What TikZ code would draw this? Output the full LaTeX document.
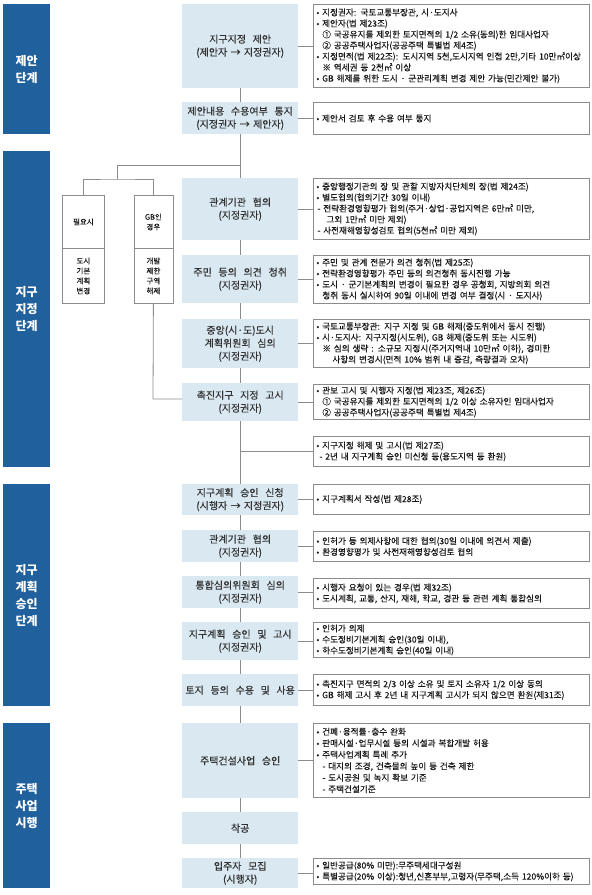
\documentclass[tikz,border=0pt]{standalone}
\usepackage{fontspec}
\setmainfont{Noto Sans CJK KR}
\newfontfamily\infofont[FakeBold=0.3]{Noto Sans CJK KR}
\definecolor{stageblue}{RGB}{32,96,156}
\definecolor{boxfill}{RGB}{218,232,242}
\definecolor{linegray}{RGB}{140,140,140}
\definecolor{txtgray}{RGB}{50,50,50}
\definecolor{infotxt}{RGB}{25,25,25}
\tikzset{
  stage/.style={fill=stageblue, text=white, font=\bfseries\fontsize{12}{17}\selectfont, align=center, anchor=north west, inner sep=0pt, minimum width=47pt, text width=47pt},
  cbox/.style={fill=boxfill, text=txtgray, font=\infofont\fontsize{10}{13}\selectfont, align=center, anchor=north west, inner sep=0pt, minimum width=116pt, text width=116pt},
  ibox/.style={draw=linegray, line width=0.8pt, text=infotxt, anchor=north west, minimum width=276pt, text width=270pt, align=left, inner xsep=3pt, inner ysep=0pt, font=\infofont\fontsize{8.6}{11}\selectfont},
  sbox/.style={draw=linegray, line width=0.8pt, text=infotxt, anchor=north west, align=center, inner sep=0pt, font=\infofont\fontsize{7.5}{10}\selectfont},
  conn/.style={draw=linegray, line width=0.8pt}
}
\newcommand\ind{\hspace*{6pt}}
\newcommand\indd{\hspace*{10pt}}
\newcommand\oneline[1]{\mbox{#1}}
\begin{document}
\begin{tikzpicture}[x=1pt,y=-1pt]
\useasboundingbox[fill=white] (0,0) rectangle (592,895);

% stage bars
\node[stage, minimum height=130] (s1) at (3,4) {제안\\단계};
\node[stage, minimum height=316] (s2) at (3,151) {지구\\지정\\단계};
\node[stage, minimum height=222] (s3) at (3,484) {지구\\계획\\승인\\단계};
\node[stage, minimum height=165] (s4) at (3,723) {주택\\사업\\시행};

% center boxes
\node[cbox, minimum height=84] (b1) at (182,4) {지구지정 \ 제안\\(제안자 → 지정권자)};
\node[cbox, minimum height=32] (b2) at (182,102) {제안내용 \ 수용여부 \ 통지\\(지정권자 → 제안자)};
\node[cbox, minimum height=62] (b3) at (182,178) {관계기관 \ 협의\\(지정권자)};
\node[cbox, minimum height=48] (b4) at (182,255) {주민 \ 등의 \ 의견 \ 청취\\(지정권자)};
\node[cbox, minimum height=49] (b5) at (182,319) {중앙(시·도)도시\\계획위원회 \ 심의\\(지정권자)};
\node[cbox, minimum height=38] (b6) at (182,383) {촉진지구 \ 지정 \ 고시\\(지정권자)};
\node[cbox, minimum height=31] (b7) at (182,484) {지구계획 \ 승인 \ 신청\\(시행자 → 지정권자)};
\node[cbox, minimum height=32] (b8) at (182,530) {관계기관 \ 협의\\(지정권자)};
\node[cbox, minimum height=32] (b9) at (182,576) {통합심의위원회 \ 심의\\(지정권자)};
\node[cbox, minimum height=38] (b10) at (182,622) {지구계획 \ 승인 \ 및 \ 고시\\(지정권자)};
\node[cbox, minimum height=32] (b11) at (182,674) {토지 \ 등의 \ 수용 \ 및 \ 사용};
\node[cbox, minimum height=75] (b12) at (182,723) {주택건설사업 \ 승인};
\node[cbox, minimum height=32] (b13) at (182,812) {착공};
\node[cbox, minimum height=30] (b14) at (182,858) {입주자 \ 모집\\(시행자)};

% left small boxes
\node[sbox, minimum width=42, minimum height=53] (sa1) at (62,195) {필요시};
\node[sbox, minimum width=42, minimum height=55] (sa2) at (62,248) {도시\\기본\\계획\\변경};
\node[sbox, minimum width=39, minimum height=53] (sb1) at (133.5,195) {GB인\\경우};
\node[sbox, minimum width=39, minimum height=55] (sb2) at (133.5,248) {개발\\제한\\구역\\해제};

% info boxes
\node[ibox, minimum height=83] (i1) at (313,4) {\oneline{• 지정권자: 국토교통부장관, 시·도지사}\\
\oneline{• 제안자(법 제23조)}\\
\oneline{\ind ① 국공유지를 제외한 토지면적의 1/2 소유(동의)한 임대사업자}\\
\oneline{\ind ② 공공주택사업자(공공주택 특별법 제4조)}\\
\oneline{• 지정면적(법 제22조): 도시지역 5천,도시지역 인접 2만,기타 10만㎡이상}\\
\oneline{\ind ※ 역세권 등 2천㎡ 이상}\\
\oneline{• GB 해제를 위한 도시 · 군관리계획 변경 제안 가능(민간제안 불가)}};
\node[ibox, minimum height=32] (i2) at (313,102) {• 제안서 검토 후 수용 여부 통지};
\node[ibox, minimum height=61] (i3) at (313,178) {\oneline{• 중앙행정기관의 장 및 관할 지방자치단체의 장(법 제24조)}\\
\oneline{• 별도협의(협의기간 30일 이내)}\\
\oneline{\hspace*{1pt}- 전략환경영향평가 협의(주거·상업·공업지역은 6만㎡ 미만,}\\
\oneline{\indd 그외 1만㎡ 미만 제외)}\\
\oneline{\hspace*{1pt}- 사전재해영향성검토 협의(5천㎡ 미만 제외)}};
\node[ibox, minimum height=48] (i4) at (313,255) {\oneline{• 주민 및 관계 전문가 의견 청취(법 제25조)}\\
\oneline{• 전략환경영향평가 주민 등의 의견청취 동시진행 가능}\\
\oneline{• 도시 · 군기본계획의 변경이 필요한 경우 공청회, 지방의회 의견}\\
\oneline{\ind 청취 동시 실시하여 90일 이내에 변경 여부 결정(시 · 도지사)}};
\node[ibox, minimum height=48] (i5) at (313,319) {\oneline{• 국토교통부장관: 지구 지정 및 GB 해제(중도위에서 동시 진행)}\\
\oneline{• 시·도지사: 지구지정(시도위), GB 해제(중도위 또는 시도위)}\\
\oneline{\ind ※ 심의 생략 : 소규모 지정시(주거지역내 10만㎡ 이하), 경미한}\\
\oneline{\indd\ind 사항의 변경시(면적 10\% 범위 내 증감, 측량결과 오차)}};
\node[ibox, minimum height=35] (i6) at (313,384) {\oneline{• 관보 고시 및 시행자 지정(법 제23조, 제26조)}\\
\oneline{\ind ① 국공유지를 제외한 토지면적의 1/2 이상 소유자인 임대사업자}\\
\oneline{\ind ② 공공주택사업자(공공주택 특별법 제4조)}};
\node[ibox, minimum height=30] (i7) at (313,436) {\oneline{• 지구지정 해제 및 고시(법 제27조)}\\
\oneline{\hspace*{3pt}- 2년 내 지구계획 승인 미신청 등(용도지역 등 환원)}};
\node[ibox, minimum height=30] (i8) at (313,484) {• 지구계획서 작성(법 제28조)};
\node[ibox, minimum height=30] (i9) at (313,531) {\oneline{• 인허가 등 의제사항에 대한 협의(30일 이내에 의견서 제출)}\\
\oneline{• 환경영향평가 및 사전재해영향성검토 협의}};
\node[ibox, minimum height=30] (i10) at (313,578) {\oneline{• 시행자 요청이 있는 경우(법 제32조)}\\
\oneline{• 도시계획, 교통, 산지, 재해, 학교, 경관 등 관련 계획 통합심의}};
\node[ibox, minimum height=35] (i11) at (313,622) {\oneline{• 인허가 의제}\\
\oneline{• 수도정비기본계획 승인(30일 이내),}\\
\oneline{• 하수도정비기본계획 승인(40일 이내)}};
\node[ibox, minimum height=31] (i12) at (313,674) {\oneline{• 촉진지구 면적의 2/3 이상 소유 및 토지 소유자 1/2 이상 동의}\\
\oneline{• GB 해제 고시 후 2년 내 지구계획 고시가 되지 않으면 환원(제31조)}};
\node[ibox, minimum height=74, font=\infofont\fontsize{8.6}{11.5}\selectfont] (i13) at (313,723) {\oneline{• 건폐·용적률·층수 완화}\\
\oneline{• 판매시설·업무시설 등의 시설과 복합개발 허용}\\
\oneline{• 주택사업계획 특례 추가}\\
\oneline{\ind - 대지의 조경, 건축물의 높이 등 건축 제한}\\
\oneline{\ind - 도시공원 및 녹지 확보 기준}\\
\oneline{\ind - 주택건설기준}};
\node[ibox, minimum height=26] (i14) at (313,858) {\oneline{• 일반공급(80\% 미만):무주택세대구성원}\\
\oneline{• 특별공급(20\% 이상):청년,신혼부부,고령자(무주택,소득 120\%이하 등)}};

% main vertical connectors
\foreach \a/\b in {b1/b2,b2/b3,b3/b4,b4/b5,b5/b6,b6/b7,b7/b8,b8/b9,b9/b10,b10/b11,b11/b12,b12/b13,b13/b14}
  \draw[conn] (\a.south) -- (\b.north);

% center -> info connectors
\foreach \a/\b in {b1/i1,b2/i2,b3/i3,b4/i4,b5/i5,b6/i6,b7/i8,b8/i9,b9/i10,b10/i11,b11/i12,b12/i13,b14/i14}
  \draw[conn] (\a.east) -- (\a.east -| \b.west);

% branch to left boxes
\coordinate (br1) at (240,165);
\coordinate (br2) at (117,179);
\draw[conn] (br1) -| (br2);
\draw[conn] (sa1.north) |- (br2) -| (sb1.north);
% GB box to 촉진지구 지정 고시
\coordinate (gbj) at (153,399);
\draw[conn] (sb2.south) -- (gbj) -- (gbj -| b6.west);
% branch to 지구지정 해제
\coordinate (br3) at (240,451);
\draw[conn] (br3) -- (br3 -| i7.west);
\end{tikzpicture}
\end{document}
